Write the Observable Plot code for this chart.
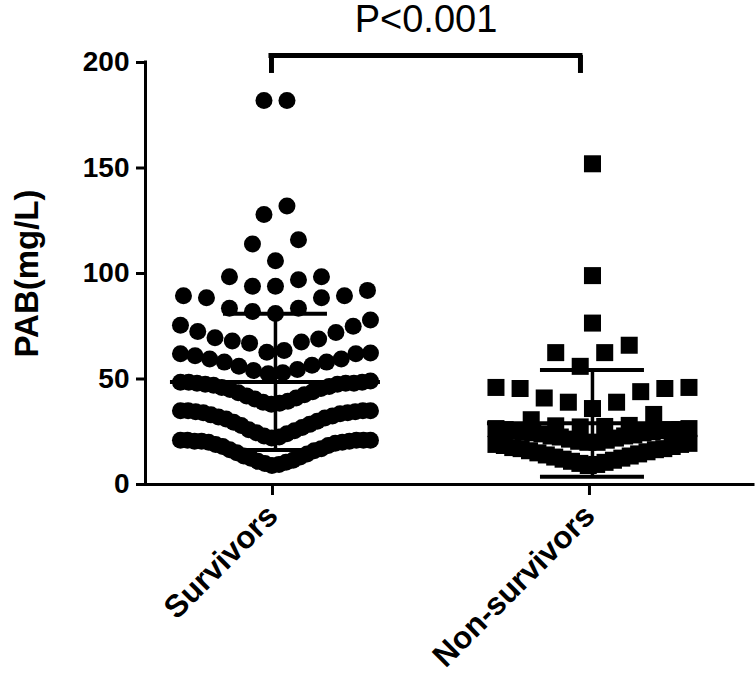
<!DOCTYPE html>
<html>
<head>
<meta charset="utf-8">
<script src="https://cdn.jsdelivr.net/npm/d3@7"></script>
<script src="https://cdn.jsdelivr.net/npm/@observablehq/plot@0.6"></script>
<style>
  html, body { margin: 0; padding: 0; background: #fff; }
</style>
</head>
<body>
<div id="chart"></div>
<script>
// ---------- DATA ----------
const groups = ["Survivors", "Non-survivors"];

const survivorsPAB = [
  182, 182,
  128, 132,
  106, 114, 116,
  94, 94, 97, 98.5, 98.5,
  81, 82, 83.5, 83.5, 88.5, 88.5, 89.5, 89.5, 92,
  62.7, 63.5, 67, 67.5, 68, 69, 69.5, 72, 72.5, 75, 75.5, 78,
  52.5, 53, 54, 54.5, 56, 56.5, 58, 58, 59.5, 59.5, 61, 62, 62, 62.3,
  38, 38.5, 39, 39.5, 40.5, 41, 42, 42.5, 43.5, 44, 45, 45.5, 46, 46.5, 47, 47.5, 47.5, 48, 48, 48, 48.5, 48.5, 48.5, 49,
  22, 22.5, 23, 24, 24.5, 25.5, 26, 27, 28, 28.5, 29.5, 30, 31, 31.5, 32, 32.5, 33, 33.5, 34, 34, 34.5, 34.5, 35, 35, 35, 35,
  9, 9.5, 10, 10.5, 11, 11.5, 12.5, 13, 13.5, 14.5, 15, 16, 16.5, 17, 18, 18.5, 19, 19.5, 20, 20, 20.5, 20.5, 20.5, 21, 21, 21, 21, 21
];

const nonSurvivorsPAB = [
  152,
  99,
  76.5,
  56, 62.5, 62.5, 66,
  36, 39, 39, 41, 44, 45.5, 45.5, 46, 46,
  27.3, 27.5, 27.8, 28, 30.7, 33.2,
  20, 20, 20.5, 21, 21.5, 22, 22.5, 23, 23, 23.5, 24, 24.5, 24.5, 25, 25, 25.5, 25.5, 26, 26, 26, 26.5, 26.5,
  9, 9.5, 10, 10.5, 11, 11.5, 12, 12.5, 13, 13.5, 14, 14.5, 15, 15.5, 16, 16.5, 17, 17, 17.5, 18, 18.5, 19, 19, 19.5
];

const groupMeans = [48.6, 29.0];
const groupSDs = [32.3, 25.3];

const yTickValues = [0, 50, 100, 150, 200];
const yLabel = "PAB(mg/L)";
const pLabel = "P<0.001";

// ---------- LAYOUT PARAMETERS ----------
const W = 756, H = 674;
const marginLeft = 145, marginRight = 3, marginTop = 62, marginBottom = 190;
const xDomain = [-0.41, 1.508];
const pxPerUnit = (W - marginLeft - marginRight) / (xDomain[1] - xDomain[0]);

// row thresholds (value bins) used by the scatter-dot layout
const survivorRows = [7, 21.5, 35.5, 49.5, 62.5, 79.5, 93, 105, 120, 140, 175, 190];
const nonSurvivorRows = [3, 19.8, 27.2, 35.5, 49.5, 69, 82, 110, 160];

// GraphPad-like scatter-dot layout: bin by value, sort ascending, spread outward from centre
function scatterLayout(values, edges, maxStep, halfWidth, g) {
  const rows = d3.group(values, v => d3.bisectRight(edges, v));
  const out = [];
  for (const [, vs] of rows) {
    const s = vs.slice().sort(d3.ascending);
    const n = s.length;
    const step = n > 1 ? Math.min(maxStep, 2 * halfWidth / (n - 1)) : 0;
    s.forEach((v, i) => {
      let slot;
      if (n % 2 === 1) {
        if (i === 0) slot = 0;
        else { const k = Math.ceil(i / 2); slot = (i % 2 === 1) ? -k : k; }
      } else {
        const k = Math.floor(i / 2) + 0.5; slot = (i % 2 === 0) ? -k : k;
      }
      out.push({g, value: v, x: g + slot * step / pxPerUnit});
    });
  }
  return out;
}

const survPts = scatterLayout(survivorsPAB, survivorRows, 23, 95, 0);
const nonPts = scatterLayout(nonSurvivorsPAB, nonSurvivorRows, 24.5, 96.5, 1);

const stats = groups.map((name, i) => ({i, name, mean: groupMeans[i], sd: groupSDs[i]}));
const meanHalf = 105 / pxPerUnit, capHalf = 52 / pxPerUnit;

// significance bracket between the two groups
const bracket = {x1: 0 - 4 / pxPerUnit, x2: 1 - 12 / pxPerUnit, y: 203.3, drop: 8.5, labelY: 220};

const font = "'Liberation Sans', Arial, Helvetica, sans-serif";

const chart = Plot.plot({
  width: W,
  height: H,
  marginLeft, marginRight, marginTop, marginBottom,
  style: {fontFamily: font, background: "#fff", color: "#000", overflow: "visible"},
  x: {type: "linear", domain: xDomain},
  y: {domain: [0, 200]},
  marks: [
    // axis lines
    Plot.ruleX([xDomain[0]], {y1: 0, y2: 200, stroke: "#000", strokeWidth: 3, strokeLinecap: "square"}),
    Plot.ruleY([0], {x1: xDomain[0], x2: xDomain[1], stroke: "#000", strokeWidth: 3, strokeLinecap: "square"}),
    Plot.axisY({ticks: yTickValues, tickSize: 9, tickPadding: 7, strokeWidth: 3, fontSize: 28, fontWeight: "bold", label: null}),
    Plot.axisX({ticks: [0, 1], tickFormat: i => groups[i], tickSize: 11, tickPadding: 15, dx: -3, tickRotate: -45, strokeWidth: 3, fontSize: 31.5, fontWeight: "bold", label: null}),
    Plot.text([yLabel], {frameAnchor: "left", textAnchor: "middle", dx: -118, rotate: -90, fontSize: 33, fontWeight: "bold", fill: "#000"}),
    // points
    Plot.dot(survPts, {x: "x", y: "value", r: 8.5, fill: "#000", stroke: "none"}),
    Plot.dot(nonPts, {x: "x", y: "value", symbol: "square", r: 9.6, fill: "#000", stroke: "none"}),
    // mean and SD
    Plot.ruleY(stats, {y: "mean", x1: d => d.i - meanHalf, x2: d => d.i + meanHalf, stroke: "#000", strokeWidth: 4}),
    Plot.ruleX(stats, {x: "i", y1: d => d.mean - d.sd, y2: d => d.mean + d.sd, stroke: "#000", strokeWidth: 3.5}),
    Plot.ruleY(stats, {y: d => d.mean + d.sd, x1: d => d.i - capHalf, x2: d => d.i + capHalf, stroke: "#000", strokeWidth: 4}),
    Plot.ruleY(stats, {y: d => d.mean - d.sd, x1: d => d.i - capHalf, x2: d => d.i + capHalf, stroke: "#000", strokeWidth: 4}),
    // significance bracket
    Plot.ruleY([bracket.y], {x1: bracket.x1, x2: bracket.x2, stroke: "#000", strokeWidth: 5, strokeLinecap: "square"}),
    Plot.ruleX([bracket.x1, bracket.x2], {y1: bracket.y - bracket.drop, y2: bracket.y, stroke: "#000", strokeWidth: 5}),
    Plot.text([pLabel], {x: (bracket.x1 + bracket.x2) / 2, y: bracket.labelY, fontSize: 38, fill: "#000", fontWeight: "normal"})
  ]
});

document.getElementById("chart").appendChild(chart);
</script>
</body>
</html>
